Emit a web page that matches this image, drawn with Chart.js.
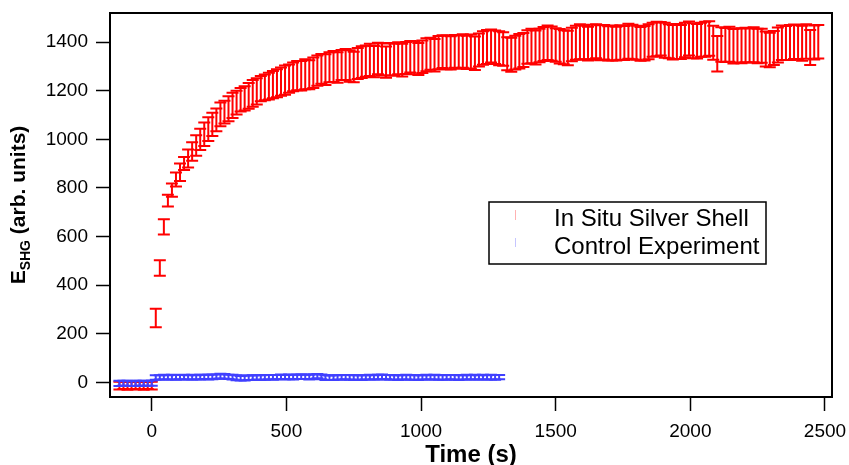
<!DOCTYPE html>
<html>
<head>
<meta charset="utf-8">
<script src="https://cdn.jsdelivr.net/npm/chart.js@4.4.1/dist/chart.umd.min.js"></script>
<style>
  html, body { margin: 0; padding: 0; background: #fff; }
</style>
</head>
<body>
<canvas id="shgChart" width="849" height="465"></canvas>
<script>
// both runs were sampled every 15 s starting 2 min before the trigger
const timeStart = -120;
const timeStep = 15;

const silverLabel = "In Situ Silver Shell";
const controlLabel = "Control Experiment";

const silverValues = [
  -13, -12, -14, -13, -12, -13, -14, -12, -13, 265,
  471, 640, 748, 791, 835, 865, 901, 921, 950, 975,
  1000, 1021, 1042, 1062, 1080, 1103, 1112, 1126, 1140, 1151,
  1163, 1169, 1179, 1189, 1198, 1209, 1214, 1219, 1225, 1231,
  1238, 1244, 1250, 1257, 1262, 1262, 1268, 1266, 1274, 1283,
  1290, 1287, 1297, 1300, 1296, 1306, 1308, 1302, 1298, 1312,
  1318, 1322, 1327, 1320, 1333, 1329, 1318, 1330, 1328, 1334,
  1326, 1335, 1340, 1336, 1331, 1340, 1348, 1352, 1346, 1357,
  1361, 1358, 1356, 1362, 1359, 1364, 1358, 1362, 1354, 1368,
  1376, 1380, 1384, 1379, 1375, 1372, 1352, 1348, 1357, 1363,
  1368, 1380, 1384, 1378, 1386, 1392, 1398, 1394, 1388, 1383,
  1379, 1376, 1390, 1398, 1402, 1400, 1394, 1401, 1404, 1398,
  1400, 1395, 1397, 1394, 1399, 1397, 1404, 1401, 1398, 1393,
  1396, 1402, 1410, 1413, 1414, 1408, 1404, 1400, 1403, 1401,
  1409, 1415, 1406, 1404, 1410, 1412, 1415, 1398, 1352, 1390,
  1388, 1391, 1383, 1386, 1385, 1388, 1386, 1389, 1384, 1385,
  1372, 1368, 1376, 1388, 1398, 1397, 1399, 1402, 1400, 1396,
  1403, 1378, 1399, 1402
];

const silverErrors = [
  16, 15, 16, 15, 16, 15, 16, 15, 16, 38,
  32, 31, 24, 27, 29, 36, 27, 37, 38, 42,
  44, 48, 49, 48, 47, 49, 47, 51, 52, 49,
  48, 50, 53, 55, 54, 52, 53, 55, 56, 58,
  58, 60, 58, 59, 60, 61, 62, 60, 63, 62,
  61, 63, 62, 64, 63, 62, 64, 65, 63, 64,
  65, 64, 66, 64, 65, 66, 64, 67, 65, 66,
  67, 66, 65, 68, 66, 67, 68, 66, 67, 68,
  67, 69, 68, 67, 68, 69, 68, 70, 69, 68,
  69, 70, 68, 69, 70, 69, 68, 70, 69, 71,
  70, 69, 71, 70, 69, 70, 71, 70, 69, 71,
  70, 71, 69, 70, 72, 70, 69, 71, 70, 72,
  71, 70, 72, 69, 71, 70, 72, 71, 70, 69,
  71, 72, 70, 71, 69, 72, 70, 71, 72, 70,
  71, 70, 72, 71, 70, 72, 71, 70, 73, 71,
  70, 72, 71, 70, 72, 71, 70, 72, 71, 70,
  72, 71, 70, 72, 71, 70, 72, 71, 70, 72,
  71, 72, 70, 69
];

const controlValues = [
  -4, -3, -4, -5, -4, -3, -4, -4, -3, 20,
  21, 22, 21, 22, 21, 22, 22, 21, 22, 21,
  22, 23, 22, 23, 24, 26, 25, 23, 22, 19,
  17, 18, 19, 20, 21, 20, 21, 22, 21, 22,
  23, 22, 23, 22, 23, 24, 23, 22, 24, 26,
  23, 20, 19, 20, 21, 21, 22, 21, 20, 21,
  20, 21, 22, 21, 22, 23, 22, 21, 21, 20,
  21, 22, 21, 20, 20, 21, 22, 21, 22, 21,
  20, 21, 22, 21, 20, 21, 22, 21, 22, 21,
  22, 21, 22, 21, 22
];

const controlErrors = [
  11, 10, 11, 10, 11, 10, 11, 10, 11, 9,
  9, 10, 9, 10, 10, 9, 10, 9, 10, 9,
  10, 9, 10, 10, 9, 10, 10, 9, 10, 10,
  9, 10, 9, 10, 9, 10, 10, 9, 10, 9,
  10, 9, 10, 10, 9, 10, 9, 10, 10, 9,
  10, 10, 9, 10, 9, 10, 9, 10, 10, 9,
  10, 9, 10, 9, 10, 10, 9, 10, 9, 10,
  9, 10, 10, 9, 10, 9, 10, 9, 10, 10,
  9, 10, 9, 10, 10, 9, 10, 9, 10, 9,
  10, 9, 10, 10, 9
];

const xTicks = [0, 500, 1000, 1500, 2000, 2500];
const yTicks = [0, 200, 400, 600, 800, 1000, 1200, 1400];

const red = "#ff0000";
const blue = "rgb(64,64,255)";
const fontFamily = "'Liberation Sans', Arial, Helvetica, sans-serif";

function toPoints(values, errors) {
  return values.map((v, i) => ({ x: timeStart + i * timeStep, y: v, err: errors[i] }));
}

// vertical error bars with caps, no markers
const errorBars = {
  id: "errorBars",
  afterDatasetsDraw(chart) {
    const { ctx, scales: { x, y } } = chart;
    const a = chart.chartArea;
    ctx.save();
    ctx.beginPath();
    ctx.rect(a.left, a.top, a.right - a.left, a.bottom - a.top);
    ctx.clip();
    chart.data.datasets.forEach((ds) => {
      ctx.strokeStyle = ds.borderColor;
      ctx.lineWidth = 2;
      ds.data.forEach((p) => {
        const px = x.getPixelForValue(p.x);
        const top = y.getPixelForValue(p.y + p.err);
        const bot = y.getPixelForValue(p.y - p.err);
        ctx.beginPath();
        ctx.moveTo(px, top);
        ctx.lineTo(px, bot);
        ctx.moveTo(px - 6, top);
        ctx.lineTo(px + 6, top);
        ctx.moveTo(px - 6, bot);
        ctx.lineTo(px + 6, bot);
        ctx.stroke();
      });
    });
    ctx.restore();
  }
};

// frame, y title with subscript, boxed legend
const decorations = {
  id: "decorations",
  afterDraw(chart) {
    const { ctx, chartArea: a } = chart;
    ctx.save();
    ctx.strokeStyle = "#000";
    ctx.lineWidth = 2;
    ctx.strokeRect(a.left, a.top, a.right - a.left, a.bottom - a.top);

    // y axis title
    const big = "bold 21px " + fontFamily;
    const small = "bold 14px " + fontFamily;
    ctx.fillStyle = "#000";
    ctx.textBaseline = "alphabetic";
    ctx.textAlign = "left";
    ctx.font = big;
    const wE = ctx.measureText("E").width;
    const wRest = ctx.measureText(" (arb. units)").width;
    ctx.font = small;
    const wSub = ctx.measureText("SHG").width;
    const total = wE + wSub + wRest;
    ctx.translate(25, 205);
    ctx.rotate(-Math.PI / 2);
    let pos = -total / 2;
    ctx.font = big;
    ctx.fillText("E", pos, 0);
    pos += wE;
    ctx.font = small;
    ctx.fillText("SHG", pos, 5);
    pos += wSub;
    ctx.font = big;
    ctx.fillText(" (arb. units)", pos, 0);
    ctx.setTransform(1, 0, 0, 1, 0, 0);

    // legend
    ctx.lineWidth = 1.5;
    ctx.strokeRect(489, 202, 277, 62);
    ctx.font = "24px " + fontFamily;
    ctx.textBaseline = "middle";
    ctx.fillText(silverLabel, 554, 219);
    ctx.fillText(controlLabel, 554, 247);
    ctx.lineWidth = 1;
    ctx.strokeStyle = "rgba(255,0,0,0.3)";
    ctx.beginPath();
    ctx.moveTo(515.5, 210);
    ctx.lineTo(515.5, 220);
    ctx.stroke();
    ctx.strokeStyle = "rgba(64,64,255,0.3)";
    ctx.beginPath();
    ctx.moveTo(515.5, 238);
    ctx.lineTo(515.5, 247);
    ctx.stroke();
    ctx.restore();
  }
};

const whiteBg = {
  id: "whiteBg",
  beforeDraw(chart) {
    const ctx = chart.ctx;
    ctx.save();
    ctx.fillStyle = "#fff";
    ctx.fillRect(0, 0, chart.width, chart.height);
    ctx.restore();
  }
};

const ctx = document.getElementById("shgChart").getContext("2d");

new Chart(ctx, {
  type: "scatter",
  data: {
    datasets: [
      {
        label: silverLabel,
        data: toPoints(silverValues, silverErrors),
        borderColor: red,
        backgroundColor: red,
        pointRadius: 0,
        showLine: false,
      },
      {
        label: controlLabel,
        data: toPoints(controlValues, controlErrors),
        borderColor: blue,
        backgroundColor: blue,
        pointRadius: 0,
        showLine: false,
      },
    ],
  },
  options: {
    responsive: false,
    animation: false,
    layout: { padding: { left: 0, top: 13, right: 17, bottom: 0 } },
    plugins: {
      legend: { display: false },
      tooltip: { enabled: false },
    },
    scales: {
      x: {
        type: "linear",
        min: -155,
        max: 2526,
        afterFit: (scale) => {
          scale.height = 68;
          scale.paddingLeft = 0;
          scale.paddingRight = 0;
        },
        afterBuildTicks: (scale) => { scale.ticks = xTicks.map((v) => ({ value: v })); },
        grid: { drawOnChartArea: false, drawTicks: true, tickLength: 14, tickColor: "#000", tickWidth: 1.5 },
        border: { display: true, color: "#000", width: 2 },
        ticks: {
          color: "#000",
          padding: 9,
          maxRotation: 0,
          font: { family: fontFamily, size: 19 },
          callback: (value) => String(value),
        },
        title: {
          display: true,
          text: "Time (s)",
          color: "#000",
          padding: 0,
          font: { family: fontFamily, size: 24, weight: "bold", lineHeight: 0.8 },
        },
      },
      y: {
        min: -60,
        max: 1520,
        afterFit: (scale) => {
          scale.width = 110;
          scale.paddingTop = 0;
          scale.paddingBottom = 0;
        },
        afterBuildTicks: (scale) => { scale.ticks = yTicks.map((v) => ({ value: v })); },
        grid: { drawOnChartArea: false, drawTicks: true, tickLength: 14, tickColor: "#000", tickWidth: 1.5 },
        border: { display: true, color: "#000", width: 2 },
        ticks: {
          color: "#000",
          padding: 8,
          font: { family: fontFamily, size: 19 },
          callback: (value) => String(value),
        },
      },
    },
  },
  plugins: [whiteBg, errorBars, decorations],
});
</script>
</body>
</html>
